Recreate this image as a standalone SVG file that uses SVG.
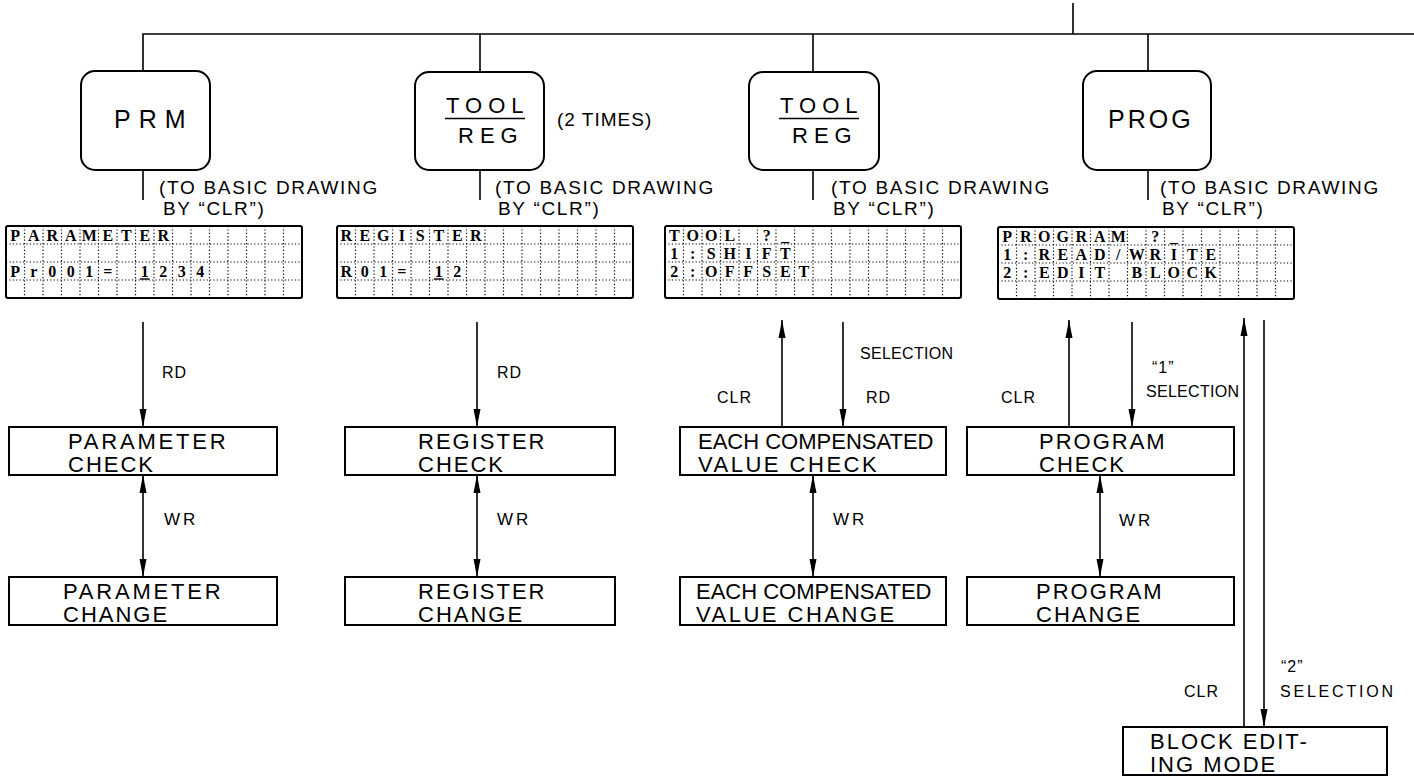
<svg xmlns="http://www.w3.org/2000/svg" width="1414" height="777" viewBox="0 0 1414 777">
<style>
.ln{stroke:#000;stroke-width:1.6;fill:none}
.bx{fill:#fff;stroke:#000;stroke-width:2}
.t{font-family:"Liberation Sans",Arial,sans-serif;fill:#000}
.big{font-size:25px}
.key{font-size:22px;letter-spacing:6px}
.box{font-size:22px;letter-spacing:2px}
.lbl{font-size:16px;letter-spacing:1px}
.wr{font-size:17px;letter-spacing:3px}
.note{font-size:19px;letter-spacing:1.7px}
.lcd{font-family:"Liberation Serif","Times New Roman",serif;font-weight:bold;font-size:16px;text-anchor:middle;fill:#000}
.dot{stroke:#000;stroke-width:1.2;stroke-dasharray:1.2 2.2;fill:none}
.frame{fill:#fff;stroke:#000;stroke-width:2}
</style>
<defs>
<marker id="arr" viewBox="0 -4 18 8" refX="18" refY="0" markerWidth="18" markerHeight="8" markerUnits="userSpaceOnUse" orient="auto"><path d="M0,-3.5 L18,0 L0,3.5 Z" fill="#000"/></marker>
<marker id="arrS" viewBox="0 -4 18 8" refX="18" refY="0" markerWidth="18" markerHeight="8" markerUnits="userSpaceOnUse" orient="auto-start-reverse"><path d="M0,-3.5 L18,0 L0,3.5 Z" fill="#000"/></marker>
<g id="grid">
<rect class="frame" x="0" y="0" width="296" height="72" rx="2"/>
<path class="dot" d="M0,18H296M0,36H296M0,54H296M18.5,0V72M37,0V72M55.5,0V72M74,0V72M92.5,0V72M111,0V72M129.5,0V72M148,0V72M166.5,0V72M185,0V72M203.5,0V72M222,0V72M240.5,0V72M259,0V72M277.5,0V72"/>
</g>
</defs>
<rect width="1414" height="777" fill="#fff"/>

<g id="connectors">
<path class="ln" d="M143,71V34H1414M480,34V72M813,34V72M1148,34V71M1073,3V34"/>
<path class="ln" d="M143,170V200M480,170V200M813,170V200M1148,170V200"/>
<line class="ln" x1="143" y1="322" x2="143" y2="427" marker-end="url(#arr)"/>
<line class="ln" x1="143" y1="475" x2="143" y2="577" marker-start="url(#arrS)" marker-end="url(#arr)"/>
<line class="ln" x1="477" y1="322" x2="477" y2="427" marker-end="url(#arr)"/>
<line class="ln" x1="477" y1="475" x2="477" y2="577" marker-start="url(#arrS)" marker-end="url(#arr)"/>
<line class="ln" x1="782" y1="427" x2="782" y2="320" marker-end="url(#arr)"/>
<line class="ln" x1="843" y1="322" x2="843" y2="427" marker-end="url(#arr)"/>
<line class="ln" x1="813" y1="475" x2="813" y2="577" marker-start="url(#arrS)" marker-end="url(#arr)"/>
<line class="ln" x1="1069" y1="427" x2="1069" y2="320" marker-end="url(#arr)"/>
<line class="ln" x1="1132" y1="322" x2="1132" y2="427" marker-end="url(#arr)"/>
<line class="ln" x1="1100" y1="475" x2="1100" y2="577" marker-start="url(#arrS)" marker-end="url(#arr)"/>
<line class="ln" x1="1244" y1="727" x2="1244" y2="318" marker-end="url(#arr)"/>
<line class="ln" x1="1264" y1="320" x2="1264" y2="727" marker-end="url(#arr)"/>
<text class="t lbl" x="162" y="378">RD</text>
<text class="t lbl" x="497" y="378">RD</text>
<text class="t wr" x="164" y="525">WR</text>
<text class="t wr" x="497" y="525">WR</text>
<text class="t wr" x="833" y="525">WR</text>
<text class="t wr" x="1119" y="526">WR</text>
<text class="t lbl" x="717" y="403">CLR</text>
<text class="t lbl" x="860" y="359" textLength="94" lengthAdjust="spacing">SELECTION</text>
<text class="t lbl" x="866" y="403">RD</text>
<text class="t lbl" x="1001" y="403">CLR</text>
<text class="t lbl" x="1152" y="373">“1”</text>
<text class="t lbl" x="1146" y="397" textLength="94" lengthAdjust="spacing">SELECTION</text>
<text class="t lbl" x="1184" y="697">CLR</text>
<text class="t lbl" x="1281" y="672">“2”</text>
<text class="t lbl" x="1280" y="697" textLength="114" lengthAdjust="spacing">SELECTION</text>
</g>

<g id="prm">
<rect class="bx" x="81" y="71" width="129" height="99" rx="14"/>
<text class="t big" x="114" y="128" style="letter-spacing:8px">PRM</text>
<text class="t note" x="159" y="194">(TO BASIC DRAWING</text>
<text class="t note" x="163" y="215">BY “CLR”)</text>
</g>
<g id="toolreg1">
<rect class="bx" x="415" y="72" width="129" height="98" rx="14"/>
<text class="t key" x="446" y="113">TOOL</text>
<line x1="445" y1="118.5" x2="525" y2="118.5" stroke="#000" stroke-width="1.6"/>
<text class="t key" x="458" y="143">REG</text>
<text class="t note" x="557" y="126" style="letter-spacing:1px">(2 TIMES)</text>
<text class="t note" x="495" y="194">(TO BASIC DRAWING</text>
<text class="t note" x="498" y="215">BY “CLR”)</text>
</g>
<g id="toolreg2">
<rect class="bx" x="749" y="72" width="130" height="98" rx="14"/>
<text class="t key" x="780" y="113">TOOL</text>
<line x1="779" y1="118.5" x2="859" y2="118.5" stroke="#000" stroke-width="1.6"/>
<text class="t key" x="792" y="143">REG</text>
<text class="t note" x="831" y="194">(TO BASIC DRAWING</text>
<text class="t note" x="833" y="215">BY “CLR”)</text>
</g>
<g id="prog">
<rect class="bx" x="1083" y="71" width="128" height="99" rx="14"/>
<text class="t big" x="1108" y="128" style="letter-spacing:3px">PROG</text>
<text class="t note" x="1160" y="194">(TO BASIC DRAWING</text>
<text class="t note" x="1162" y="215">BY “CLR”)</text>
</g>

<g id="lcd-parameter" transform="translate(6,226)">
<use href="#grid"/>
<text class="lcd" x="9.25 27.75 46.25 64.75 83.25 101.75 120.25 138.75 157.25" y="15">PARAMETER</text>
<text class="lcd" x="9.25 27.75 46.25 64.75 83.25 101.75" y="51">Pr001=</text>
<text class="lcd" x="138.75 157.25 175.75 194.25" y="51">1234</text>
<line x1="134" y1="53" x2="143.5" y2="53" stroke="#000" stroke-width="1.4"/>
</g>
<g id="lcd-register" transform="translate(337,226)">
<use href="#grid"/>
<text class="lcd" x="9.25 27.75 46.25 64.75 83.25 101.75 120.25 138.75" y="15">REGISTER</text>
<text class="lcd" x="9.25 27.75 46.25 64.75" y="51">R01=</text>
<text class="lcd" x="101.75 120.25" y="51">12</text>
<line x1="97" y1="53" x2="106.5" y2="53" stroke="#000" stroke-width="1.4"/>
</g>
<g id="lcd-tool" transform="translate(665,226)">
<use href="#grid"/>
<text class="lcd" x="9.25 27.75 46.25 64.75" y="15">TOOL</text>
<text class="lcd" x="101.75 120.25" y="15">?_</text>
<text class="lcd" x="9.25 27.75 46.25 64.75 83.25 101.75 120.25" y="33">1:SHIFT</text>
<text class="lcd" x="9.25 27.75 46.25 64.75 83.25 101.75 120.25 138.75" y="51">2:OFFSET</text>
</g>
<g id="lcd-program" transform="translate(998,227)">
<use href="#grid"/>
<text class="lcd" x="9.25 27.75 46.25 64.75 83.25 101.75 120.25" y="15">PROGRAM</text>
<text class="lcd" x="157.25 175.75" y="15">?_</text>
<text class="lcd" x="9.25 27.75 46.25 64.75 83.25 101.75 120.25 138.75 157.25 175.75 194.25 212.75" y="33">1:READ/WRITE</text>
<text class="lcd" x="9.25 27.75 46.25 64.75 83.25 101.75" y="51">2:EDIT</text>
<text class="lcd" x="138.75 157.25 175.75 194.25 212.75" y="51">BLOCK</text>
</g>

<g id="parameter-check">
<rect class="bx" x="9" y="427" width="268" height="48"/>
<text class="t box" x="68" y="449" style="letter-spacing:2.8px">PARAMETER</text>
<text class="t box" x="68" y="472">CHECK</text>
</g>
<g id="parameter-change">
<rect class="bx" x="9" y="577" width="268" height="48"/>
<text class="t box" x="63" y="599" style="letter-spacing:2.8px">PARAMETER</text>
<text class="t box" x="63" y="622">CHANGE</text>
</g>
<g id="register-check">
<rect class="bx" x="345" y="427" width="270" height="48"/>
<text class="t box" x="418" y="449">REGISTER</text>
<text class="t box" x="418" y="472">CHECK</text>
</g>
<g id="register-change">
<rect class="bx" x="345" y="577" width="270" height="48"/>
<text class="t box" x="418" y="599">REGISTER</text>
<text class="t box" x="418" y="622">CHANGE</text>
</g>
<g id="comp-check">
<rect class="bx" x="680" y="427" width="266" height="48"/>
<text class="t box" x="698" y="449" style="letter-spacing:0">EACH COMPENSATED</text>
<text class="t box" x="698" y="472" style="letter-spacing:2.5px">VALUE CHECK</text>
</g>
<g id="comp-change">
<rect class="bx" x="680" y="577" width="266" height="48"/>
<text class="t box" x="696" y="599" style="letter-spacing:0">EACH COMPENSATED</text>
<text class="t box" x="696" y="622" style="letter-spacing:2.5px">VALUE CHANGE</text>
</g>
<g id="program-check">
<rect class="bx" x="967" y="427" width="267" height="48"/>
<text class="t box" x="1039" y="449">PROGRAM</text>
<text class="t box" x="1039" y="472">CHECK</text>
</g>
<g id="program-change">
<rect class="bx" x="967" y="577" width="267" height="48"/>
<text class="t box" x="1036" y="599">PROGRAM</text>
<text class="t box" x="1036" y="622">CHANGE</text>
</g>
<g id="block-editing">
<rect class="bx" x="1123" y="727" width="264" height="48"/>
<text class="t box" x="1150" y="749">BLOCK EDIT-</text>
<text class="t box" x="1150" y="772">ING MODE</text>
</g>
</svg>
